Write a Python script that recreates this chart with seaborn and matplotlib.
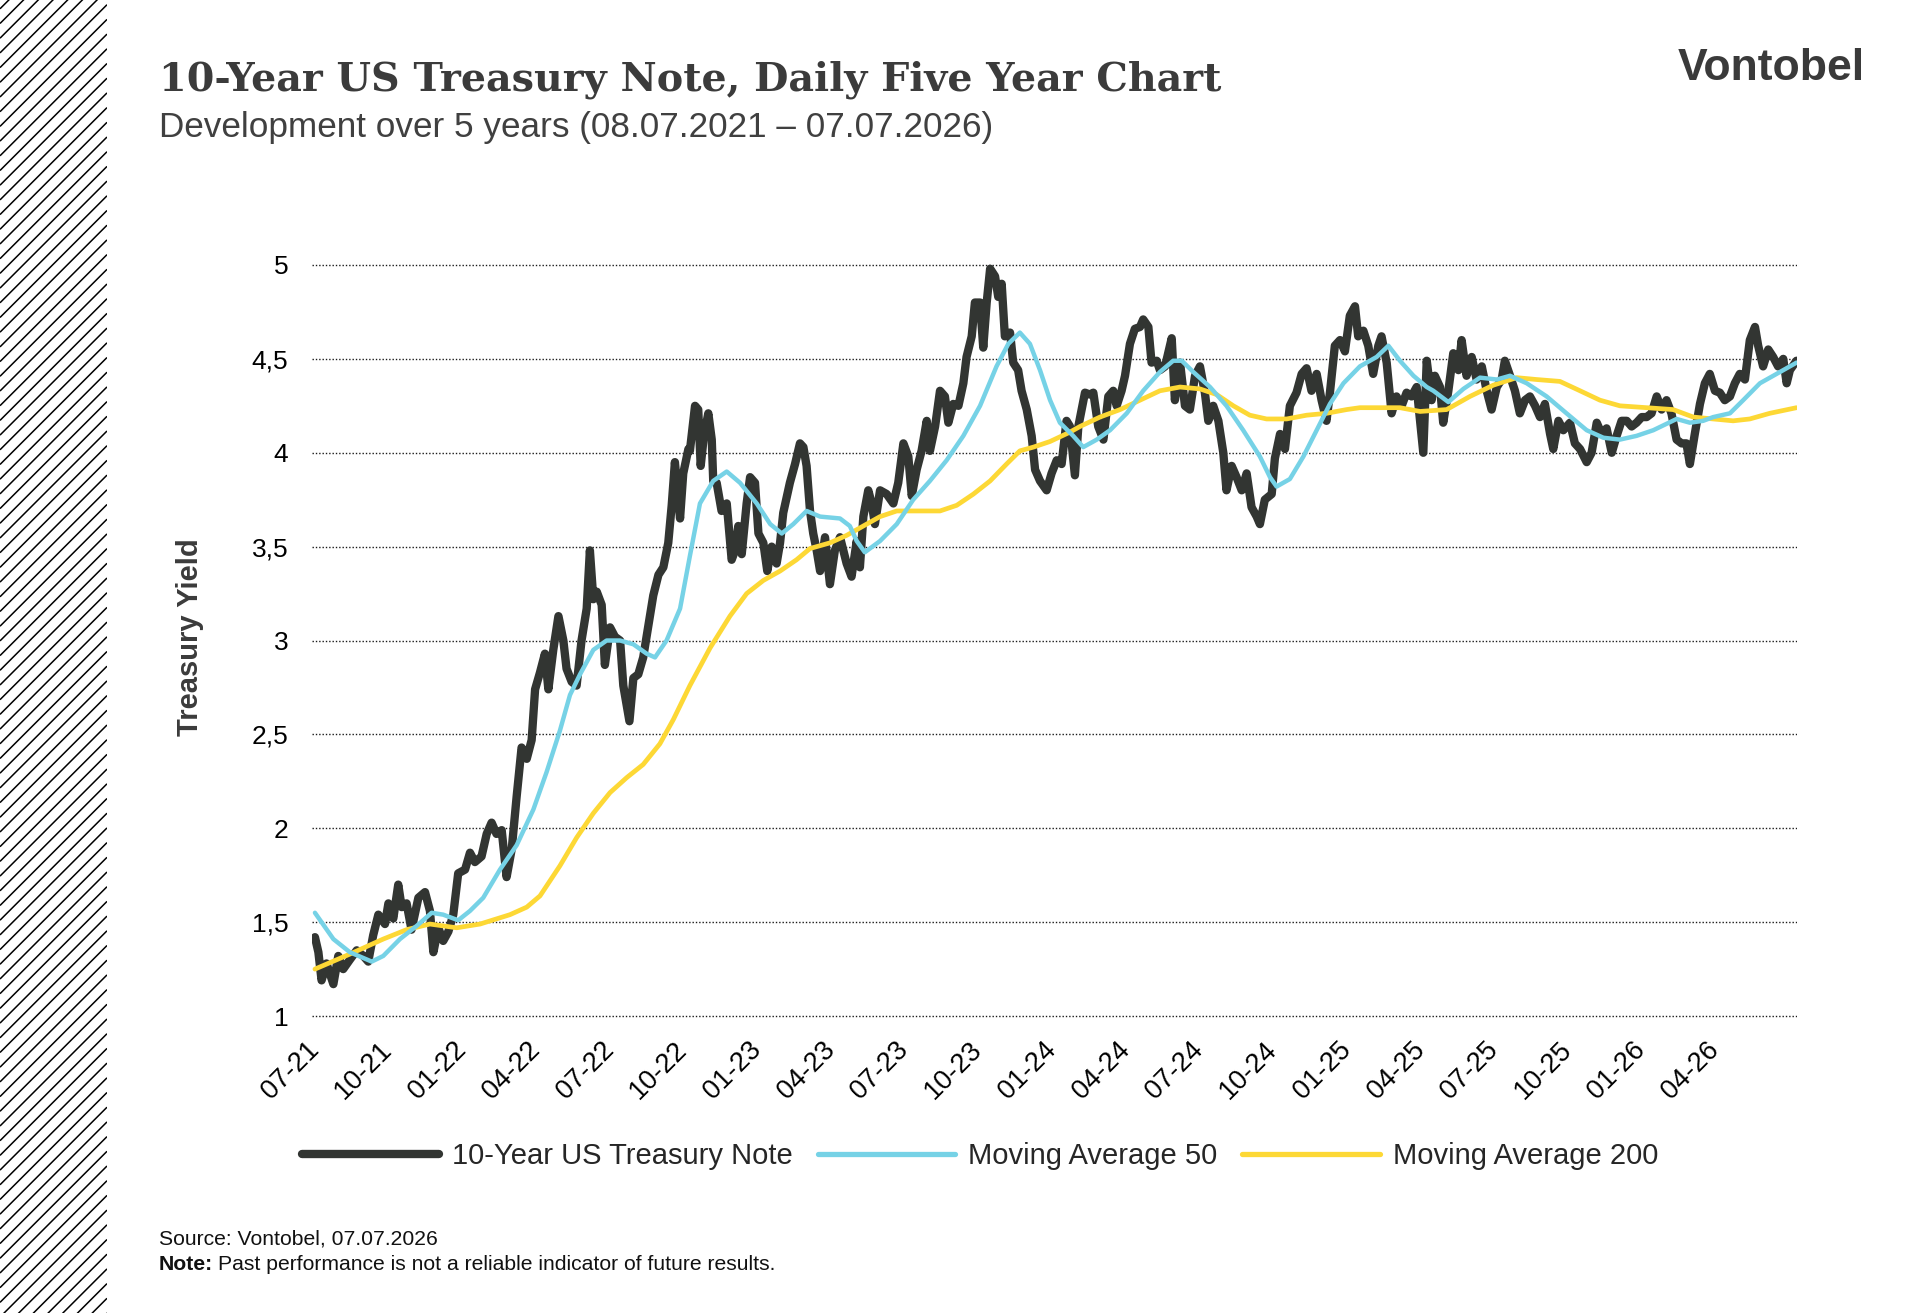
import numpy as np
import matplotlib
matplotlib.use("Agg")
import matplotlib.pyplot as plt
from matplotlib.lines import Line2D
import seaborn as sns

# values; x = months since 08.07.2021
note_months = [0.00, 0.14, 0.27, 0.47, 0.75, 0.95, 1.15, 1.42, 1.70, 1.97, 2.17, 2.37, 2.58, 2.85, 2.99, 3.19,
               3.39, 3.53, 3.73, 3.93, 4.21, 4.48, 4.68, 4.82, 5.02, 5.22, 5.43, 5.63, 5.83, 6.11, 6.31, 6.51,
               6.78, 6.99, 7.19, 7.39, 7.60, 7.80, 8.01, 8.21, 8.41, 8.62, 8.82, 8.96, 9.16, 9.36, 9.50, 9.70,
               9.91, 10.11, 10.24, 10.45, 10.65, 10.85, 11.06, 11.19, 11.33, 11.47, 11.67, 11.80, 12.01, 12.21,
               12.42, 12.55, 12.80, 12.96, 13.16, 13.36, 13.57, 13.77, 13.98, 14.18, 14.38, 14.52, 14.65, 14.86,
               14.99, 15.20, 15.26, 15.47, 15.60, 15.70, 15.83, 16.01, 16.15, 16.21, 16.35, 16.55, 16.76, 16.96,
               17.10, 17.23, 17.37, 17.57, 17.71, 17.91, 18.05, 18.25, 18.41, 18.59, 18.79, 18.93, 19.06, 19.33,
               19.54, 19.74, 19.88, 20.01, 20.15, 20.28, 20.42, 20.56, 20.76, 20.96, 21.16, 21.37, 21.64, 21.84,
               22.05, 22.18, 22.32, 22.52, 22.66, 22.79, 23.00, 23.27, 23.54, 23.74, 23.95, 24.15, 24.29, 24.49,
               24.69, 24.90, 25.03, 25.24, 25.44, 25.64, 25.78, 25.98, 26.19, 26.39, 26.52, 26.73, 26.86, 27.07,
               27.20, 27.34, 27.48, 27.68, 27.81, 27.95, 28.08, 28.29, 28.42, 28.62, 28.76, 28.97, 29.17, 29.31,
               29.51, 29.78, 29.98, 30.19, 30.39, 30.59, 30.73, 30.93, 31.07, 31.34, 31.54, 31.68, 31.88, 32.09,
               32.29, 32.49, 32.63, 32.83, 32.97, 33.17, 33.37, 33.58, 33.71, 33.92, 34.05, 34.26, 34.39, 34.60,
               34.87, 35.00, 35.21, 35.41, 35.61, 35.82, 36.02, 36.22, 36.36, 36.56, 36.77, 36.97, 37.10, 37.31,
               37.51, 37.72, 37.92, 38.12, 38.33, 38.46, 38.66, 38.94, 39.07, 39.28, 39.48, 39.68, 39.95, 40.16,
               40.36, 40.56, 40.77, 40.97, 41.17, 41.31, 41.51, 41.72, 41.92, 42.12, 42.33, 42.46, 42.67, 42.87,
               43.07, 43.28, 43.41, 43.62, 43.82, 44.02, 44.23, 44.43, 44.63, 44.84, 45.11, 45.25, 45.45, 45.58,
               45.79, 45.92, 46.13, 46.33, 46.54, 46.67, 46.87, 47.08, 47.28, 47.49, 47.69, 47.89, 48.10, 48.30,
               48.43, 48.64, 48.84, 49.04, 49.25, 49.45, 49.66, 49.86, 50.06, 50.27, 50.40, 50.61, 50.81, 51.08,
               51.28, 51.49, 51.76, 51.96, 52.17, 52.37, 52.57, 52.78, 52.98, 53.18, 53.39, 53.59, 53.79, 54.00,
               54.20, 54.40, 54.61, 54.81, 55.01, 55.21, 55.42, 55.62, 55.82, 55.96, 56.16, 56.37, 56.57, 56.77,
               56.98, 57.18, 57.38, 57.59, 57.79, 57.99, 58.20, 58.40, 58.61, 58.74, 58.94, 59.15, 59.35, 59.55,
               59.76, 59.90, 60.03, 60.30]
note_yield = [1.42, 1.34, 1.19, 1.28, 1.17, 1.32, 1.25, 1.30, 1.35, 1.32, 1.29, 1.43, 1.54, 1.49, 1.60, 1.52,
              1.70, 1.58, 1.60, 1.46, 1.63, 1.66, 1.56, 1.34, 1.47, 1.40, 1.45, 1.54, 1.76, 1.78, 1.87, 1.82,
              1.85, 1.97, 2.03, 1.97, 1.99, 1.74, 1.89, 2.17, 2.43, 2.37, 2.47, 2.74, 2.83, 2.93, 2.74, 2.95,
              3.13, 3.00, 2.85, 2.78, 2.76, 3.00, 3.17, 3.48, 3.22, 3.26, 3.19, 2.87, 3.07, 3.02,
              3.00, 2.76, 2.57, 2.80, 2.82, 2.91, 3.08, 3.24, 3.35, 3.39, 3.52, 3.72, 3.95, 3.65,
              3.89, 4.02, 4.01, 4.25, 4.23, 3.93, 4.09, 4.21, 4.07, 3.85, 3.84, 3.69, 3.73, 3.43,
              3.48, 3.61, 3.46, 3.73, 3.87, 3.84, 3.57, 3.52, 3.37, 3.50, 3.41, 3.52, 3.68, 3.84,
              3.94, 4.05, 4.03, 3.93, 3.69, 3.57, 3.48, 3.37, 3.55, 3.30, 3.48, 3.55, 3.41, 3.34,
              3.53, 3.39, 3.66, 3.80, 3.73, 3.62, 3.80, 3.78, 3.73, 3.84, 4.05, 3.98, 3.77, 3.91,
              4.01, 4.17, 4.01, 4.14, 4.33, 4.30, 4.16, 4.26, 4.25, 4.37, 4.51, 4.62, 4.80, 4.80,
              4.56, 4.80, 4.98, 4.94, 4.83, 4.90, 4.62, 4.64, 4.48, 4.44, 4.33, 4.23, 4.09, 3.91,
              3.85, 3.80, 3.89, 3.96, 3.94, 4.17, 4.14, 3.88, 4.14, 4.32, 4.31, 4.32, 4.14, 4.07,
              4.30, 4.33, 4.25, 4.33, 4.41, 4.58, 4.66, 4.67, 4.71, 4.67, 4.48, 4.49, 4.44, 4.46,
              4.61, 4.28, 4.48, 4.25, 4.23, 4.41, 4.46, 4.32, 4.17, 4.25, 4.17, 4.00, 3.80, 3.93,
              3.87, 3.80, 3.89, 3.71, 3.66, 3.62, 3.75, 3.78, 3.97, 4.10, 4.02, 4.25, 4.32, 4.42,
              4.45, 4.33, 4.42, 4.28, 4.17, 4.32, 4.57, 4.60, 4.54, 4.73, 4.78, 4.62, 4.65, 4.57,
              4.42, 4.57, 4.62, 4.48, 4.21, 4.30, 4.25, 4.32, 4.30, 4.35, 4.00, 4.49, 4.28, 4.41,
              4.35, 4.16, 4.33, 4.53, 4.44, 4.60, 4.41, 4.51, 4.39, 4.46, 4.33, 4.23, 4.35, 4.39,
              4.49, 4.41, 4.33, 4.21, 4.28, 4.30, 4.25, 4.19, 4.26, 4.10, 4.02, 4.17, 4.12, 4.16,
              4.05, 4.02, 3.95, 4.00, 4.16, 4.10, 4.13, 4.00, 4.09, 4.17, 4.17, 4.14, 4.16, 4.19,
              4.19, 4.21, 4.30, 4.23, 4.28, 4.21, 4.07, 4.05, 4.05, 3.94, 4.10, 4.26, 4.37, 4.42,
              4.33, 4.32, 4.28, 4.30, 4.37, 4.42, 4.39, 4.60, 4.67, 4.57, 4.46, 4.55, 4.51, 4.46,
              4.50, 4.37, 4.44, 4.49]

ma50_months = [0.00, 0.75, 1.42, 2.31, 2.78, 3.46, 4.14, 4.75, 5.22, 5.83, 6.31, 6.85, 7.53, 8.21, 8.89, 9.43,
               9.97, 10.38, 10.79, 11.33, 11.87, 12.42, 12.96, 13.50, 13.84, 14.31, 14.86, 15.26, 15.67, 16.21,
               16.76, 17.30, 17.98, 18.53, 19.00, 19.47, 20.01, 20.56, 21.37, 21.77, 22.05, 22.38, 23.00, 23.68,
               24.35, 25.03, 25.71, 26.39, 27.07, 27.74, 28.22, 28.69, 29.10, 29.51, 29.92, 30.32, 30.86, 31.27,
               31.82, 32.36, 33.04, 33.71, 34.39, 34.93, 35.28, 35.75, 36.43, 37.10, 37.78, 38.46, 38.87, 39.14,
               39.68, 40.23, 40.77, 41.31, 41.86, 42.53, 43.21, 43.69, 44.16, 44.71, 45.25, 45.52, 46.13, 46.74,
               47.42, 48.10, 48.64, 49.32, 50.13, 50.94, 51.76, 52.44, 53.11, 53.79, 54.47, 55.42, 55.96, 56.50,
               56.91, 57.59, 58.13, 58.81, 59.49, 60.30]
ma50_yield = [1.55, 1.41, 1.34, 1.29, 1.32, 1.41, 1.48, 1.55, 1.54, 1.51, 1.56, 1.63, 1.78, 1.91, 2.10, 2.30,
              2.52, 2.71, 2.82, 2.95, 3.00, 3.00, 2.98, 2.93, 2.91, 3.00, 3.17, 3.45, 3.73, 3.85,
              3.90, 3.84, 3.73, 3.62, 3.57, 3.62, 3.69, 3.66, 3.65, 3.61, 3.53, 3.47, 3.53, 3.62,
              3.75, 3.85, 3.96, 4.09, 4.25, 4.46, 4.58, 4.64, 4.58, 4.44, 4.28, 4.16, 4.09, 4.03,
              4.07, 4.12, 4.21, 4.33, 4.43, 4.49, 4.49, 4.43, 4.35, 4.25, 4.12, 3.98, 3.87, 3.82,
              3.86, 3.98, 4.12, 4.26, 4.37, 4.46, 4.51, 4.57, 4.49, 4.41, 4.35, 4.33, 4.27, 4.34,
              4.40, 4.39, 4.41, 4.37, 4.30, 4.21, 4.12, 4.08, 4.07, 4.09, 4.12, 4.18, 4.16, 4.17,
              4.19, 4.21, 4.28, 4.37, 4.42, 4.48]

ma200_months = [0.00, 1.42, 2.78, 3.73, 4.68, 5.77, 6.72, 7.94, 8.62, 9.16, 9.97, 10.65, 11.33, 12.01, 12.69,
                13.36, 14.04, 14.59, 15.26, 16.08, 16.89, 17.57, 18.25, 18.93, 19.60, 20.15, 20.96, 21.64, 22.32,
                23.00, 23.68, 24.35, 25.44, 26.12, 26.80, 27.48, 28.15, 28.69, 29.24, 29.92, 30.73, 31.14, 31.95,
                32.77, 33.58, 34.39, 35.21, 36.02, 36.70, 37.38, 38.05, 38.73, 39.55, 40.36, 41.17, 41.99, 42.53,
                43.35, 44.16, 44.98, 46.06, 47.01, 47.96, 48.91, 49.72, 50.67, 51.49, 52.30, 53.11, 54.20, 55.28,
                56.10, 56.91, 57.72, 58.40, 59.21, 60.30]
ma200_yield = [1.25, 1.33, 1.41, 1.46, 1.49, 1.47, 1.49, 1.54, 1.58, 1.64, 1.80, 1.95, 2.08, 2.19, 2.27,
               2.34, 2.45, 2.58, 2.76, 2.96, 3.13, 3.25, 3.32, 3.37, 3.43, 3.49, 3.52, 3.56, 3.61,
               3.66, 3.69, 3.69, 3.69, 3.72, 3.78, 3.85, 3.94, 4.01, 4.03, 4.06, 4.11, 4.14, 4.19,
               4.23, 4.28, 4.33, 4.35, 4.34, 4.31, 4.25, 4.20, 4.18, 4.18, 4.20, 4.21, 4.23, 4.24,
               4.24, 4.24, 4.22, 4.23, 4.30, 4.36, 4.40, 4.39, 4.38, 4.33, 4.28, 4.25, 4.24, 4.23,
               4.19, 4.18, 4.17, 4.18, 4.21, 4.24]

tick_months = [0, 3, 6, 9, 12, 15, 18, 21, 24, 27, 30, 33, 36, 39, 42, 45, 48, 51, 54, 57]
tick_labels = ["07-21", "10-21", "01-22", "04-22", "07-22", "10-22", "01-23", "04-23", "07-23", "10-23",
               "01-24", "04-24", "07-24", "10-24", "01-25", "04-25", "07-25", "10-25", "01-26", "04-26"]
ytick_values = [1, 1.5, 2, 2.5, 3, 3.5, 4, 4.5, 5]
ytick_labels = ["1", "1,5", "2", "2,5", "3", "3,5", "4", "4,5", "5"]

NOTE_COLOR = "#323532"
MA50_COLOR = "#76D2E6"
MA200_COLOR = "#FDD835"
TEXT_DARK = "#3b3b3b"

sns.set_theme(style="white")
plt.rcParams["font.family"] = ["Liberation Sans", "DejaVu Sans"]

W, H = 1920, 1313
fig = plt.figure(figsize=(W / 100, H / 100), dpi=100)

# hatched strip on the left edge
strip = fig.add_axes([0, 0, 107 / W, 1])
strip.set_xlim(0, 107)
strip.set_ylim(0, H)
strip.axis("off")
for c in np.arange(-107, H + 15, 14.7):
    strip.plot([0, 107], [c, c + 107], color="black", lw=1.1, solid_capstyle="butt")

# main plot area
ax = fig.add_axes([312 / W, 1 - 1019.8 / H, (1797 - 312) / W, (1019.8 - 255.6) / H])
sns.lineplot(x=note_months, y=note_yield, ax=ax, color=NOTE_COLOR, lw=6.0,
             estimator=None, sort=False, solid_joinstyle="round", solid_capstyle="round")
sns.lineplot(x=ma200_months, y=ma200_yield, ax=ax, color=MA200_COLOR, lw=3.4,
             estimator=None, sort=False)
sns.lineplot(x=ma50_months, y=ma50_yield, ax=ax, color=MA50_COLOR, lw=3.2,
             estimator=None, sort=False)

ax.set_xlim(-0.12, 60.32)
ax.set_ylim(0.98, 5.05)
for s in ax.spines.values():
    s.set_visible(False)
ax.yaxis.grid(True, color="#1a1a1a", linestyle=(0, (1, 1.4)), linewidth=1.0)
ax.xaxis.grid(False)
ax.set_yticks(ytick_values)
ax.set_yticklabels(ytick_labels, fontsize=19, color="black")
ax.set_xticks(tick_months)
ax.set_xticklabels(tick_labels, fontsize=19.5, color="black", rotation=45,
                   ha="right", va="center", rotation_mode="anchor")
ax.tick_params(axis="y", length=0, pad=17)
ax.tick_params(axis="x", length=0, pad=19)
ax.set_xlabel("")
ax.set_ylabel("")

fig.text(190 / W, 1 - 637 / H, "Treasury Yield", rotation=90, fontsize=21, fontweight="bold",
         color=TEXT_DARK, ha="center", va="center")

# legend
handles = [Line2D([], [], color=NOTE_COLOR, lw=6.0, solid_capstyle="round"),
           Line2D([], [], color=MA50_COLOR, lw=3.8),
           Line2D([], [], color=MA200_COLOR, lw=3.8)]
labels = ["10-Year US Treasury Note", "Moving Average 50", "Moving Average 200"]
fig.legend(handles, labels, loc="center", bbox_to_anchor=(980 / W, 1 - 1156 / H), ncol=3,
           frameon=False, fontsize=21, handlelength=4.7, handletextpad=0.45, columnspacing=0.86)

# header
fig.text(159 / W, 1 - 80 / H, "10-Year US Treasury Note, Daily Five Year Chart",
         fontfamily="DejaVu Serif", fontweight="bold", fontsize=28.5, color=TEXT_DARK,
         ha="left", va="center")
fig.text(159 / W, 1 - 127 / H, "Development over 5 years (08.07.2021 \u2013 07.07.2026)",
         fontsize=25.3, color="#404040", ha="left", va="center")
fig.text(1865 / W, 1 - 68 / H, "Vontobel", fontsize=32, fontweight="bold", color="#3a3a3a",
         ha="right", va="center")

# footer
fig.text(159 / W, 1 - 1239 / H, "Source: Vontobel, 07.07.2026", fontsize=15.2, color="#111111",
         ha="left", va="center")
renderer = fig.canvas.get_renderer()
note_bold = fig.text(159 / W, 1 - 1265 / H, "Note:", fontsize=15.2, fontweight="bold", color="#111111",
                     ha="left", va="center")
bb = note_bold.get_window_extent(renderer)
fig.text((bb.x1 + 5) / W, 1 - 1265 / H, "Past performance is not a reliable indicator of future results.",
         fontsize=15.2, color="#111111", ha="left", va="center")

fig.savefig("out.png", dpi=100, facecolor="white")
